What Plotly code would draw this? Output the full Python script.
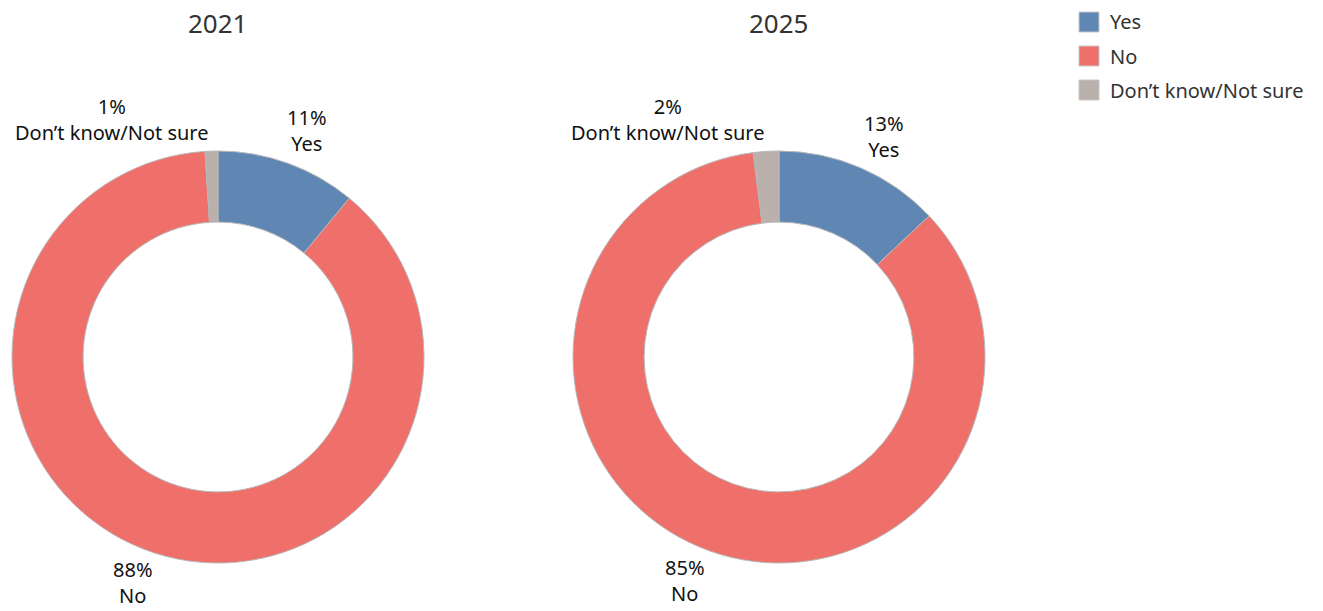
import plotly.graph_objects as go

# Survey responses by year (percent)
categories = ["Yes", "No", "Don’t know/Not sure"]
years = ["2021", "2025"]
values_2021 = [11, 88, 1]
values_2025 = [13, 85, 2]
colors = ["#6087b4", "#ef6f6a", "#bab0ac"]

W, H = 1323, 611
FONT = "Noto Sans"

def px(x):
    return x / W

def py(y):
    return 1 - y / H

fig = go.Figure()

domains = [
    dict(x=[px(12), px(424)], y=[py(563), py(151)]),
    dict(x=[px(573), px(985)], y=[py(563), py(151)]),
]

for year, vals, dom in zip(years, [values_2021, values_2025], domains):
    fig.add_trace(go.Pie(
        labels=categories,
        values=vals,
        sort=False,
        direction="clockwise",
        rotation=0,
        hole=0.655,
        domain=dom,
        marker=dict(colors=colors, line=dict(color="#b8b8b8", width=1)),
        textinfo="none",
        hoverinfo="label+percent",
        showlegend=False,
        name=year,
    ))

# Year titles
for year, cx in zip(years, [218, 779]):
    fig.add_annotation(x=px(cx), y=py(23), xref="paper", yref="paper",
                       text=year, showarrow=False,
                       font=dict(family=FONT, size=26, color="#333333"),
                       xanchor="center", yanchor="middle")

# Slice labels (value over category)
label_pos = {
    "2021": [(307, 131), (133, 582), (111, 119)],
    "2025": [(884, 137), (685, 580), (667, 119)],
}
for year, vals in zip(years, [values_2021, values_2025]):
    for cat, v, (lx, ly) in zip(categories, vals, label_pos[year]):
        fig.add_annotation(x=px(lx), y=py(ly), xref="paper", yref="paper",
                           text=f"{v}%<br>{cat}", showarrow=False,
                           font=dict(family=FONT, size=20, color="#111111"),
                           align="center", xanchor="center", yanchor="middle",
                           borderpad=0)

# Legend
for i, (cat, col) in enumerate(zip(categories, colors)):
    yc = 22 + 34 * i
    fig.add_shape(type="rect", xref="paper", yref="paper",
                  x0=px(1079), x1=px(1099), y0=py(yc + 10), y1=py(yc - 10),
                  fillcolor=col, line=dict(color="#c8c8c8", width=1))
    fig.add_annotation(x=px(1108), y=py(yc), xref="paper", yref="paper",
                       text=cat, showarrow=False,
                       font=dict(family=FONT, size=20, color="#333333"),
                       xanchor="left", yanchor="middle")

fig.update_layout(
    width=W, height=H,
    margin=dict(l=0, r=0, t=0, b=0),
    paper_bgcolor="white",
    plot_bgcolor="white",
    showlegend=False,
)

fig.write_html("out.html")
